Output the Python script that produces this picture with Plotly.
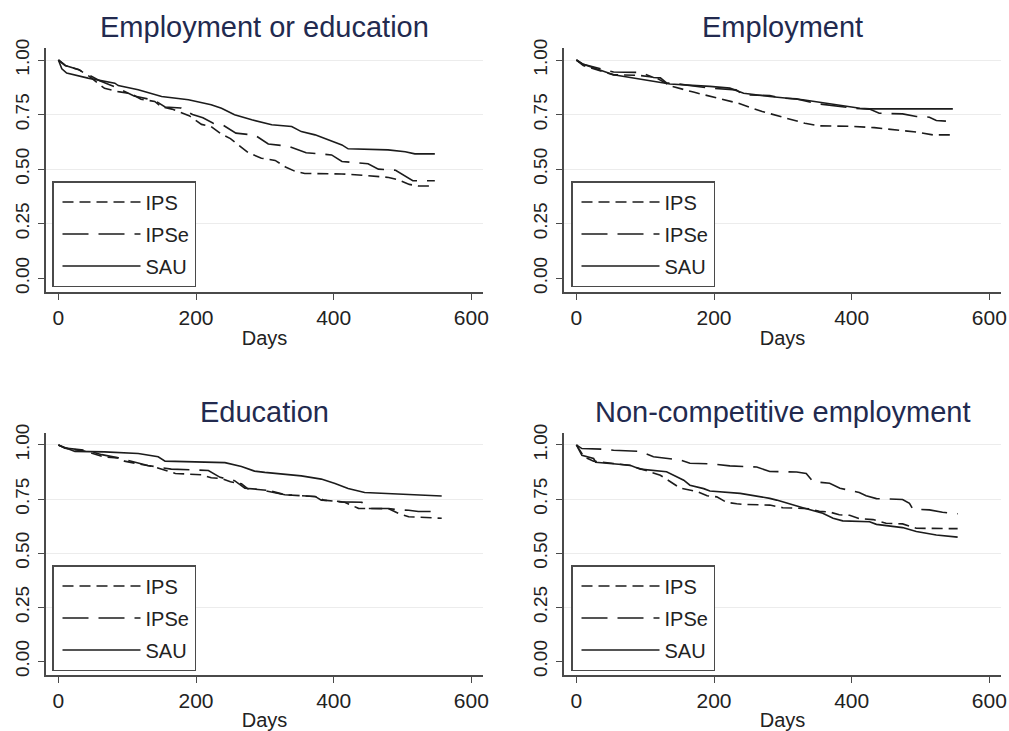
import plotly.graph_objects as go
from plotly.subplots import make_subplots

# ---------------- data ----------------
panel_titles = ["Employment or education", "Employment", "Education", "Non-competitive employment"]
groups = ["IPS", "IPSe", "SAU"]
x_ticks = [0, 200, 400, 600]
y_ticks = [0.0, 0.25, 0.5, 0.75, 1.0]
y_tick_text = ["0.00", "0.25", "0.50", "0.75", "1.00"]
y_grid = [0.25, 0.5, 0.75, 1.0]
x_title = "Days"

# Panel 1: Employment or education
p1_ips_days = [0, 10, 30, 45, 67, 87, 106, 120, 140, 150, 165, 180, 190, 208, 222, 237, 250, 266, 276, 295, 315, 330, 344, 358, 412, 450, 480, 495, 510, 523, 547]
p1_ips_surv = [1.0, 0.975, 0.955, 0.925, 0.87, 0.855, 0.845, 0.82, 0.81, 0.785, 0.775, 0.755, 0.745, 0.705, 0.695, 0.66, 0.64, 0.60, 0.575, 0.55, 0.54, 0.51, 0.49, 0.48, 0.478, 0.47, 0.462, 0.45, 0.43, 0.423, 0.423]
p1_ipse_days = [0, 10, 30, 45, 60, 87, 110, 140, 155, 178, 195, 210, 225, 240, 258, 286, 305, 334, 360, 397, 412, 450, 465, 490, 505, 515, 547]
p1_ipse_surv = [1.0, 0.975, 0.955, 0.93, 0.905, 0.87, 0.835, 0.815, 0.785, 0.78, 0.75, 0.735, 0.71, 0.70, 0.665, 0.655, 0.615, 0.605, 0.575, 0.565, 0.535, 0.525, 0.50, 0.495, 0.465, 0.447, 0.447]
p1_sau_days = [0, 5, 12, 43, 82, 87, 116, 150, 189, 222, 237, 256, 281, 310, 339, 353, 373, 397, 412, 421, 479, 504, 518, 547]
p1_sau_surv = [1.0, 0.96, 0.94, 0.917, 0.894, 0.883, 0.864, 0.833, 0.818, 0.795, 0.779, 0.749, 0.726, 0.703, 0.695, 0.672, 0.657, 0.629, 0.611, 0.593, 0.588, 0.580, 0.570, 0.570]

# Panel 2: Employment
p2_ips_days = [0, 10, 54, 90, 115, 138, 170, 200, 235, 270, 298, 332, 353, 402, 433, 465, 496, 518, 543]
p2_ips_surv = [1.0, 0.975, 0.932, 0.93, 0.92, 0.88, 0.853, 0.828, 0.802, 0.764, 0.738, 0.71, 0.698, 0.696, 0.69, 0.68, 0.669, 0.657, 0.657]
p2_ipse_days = [0, 10, 54, 93, 112, 122, 131, 141, 194, 232, 243, 281, 300, 320, 349, 407, 426, 440, 474, 494, 513, 523, 537]
p2_ipse_surv = [1.0, 0.98, 0.945, 0.943, 0.92, 0.918, 0.895, 0.893, 0.871, 0.863, 0.84, 0.837, 0.825, 0.822, 0.80, 0.778, 0.775, 0.756, 0.753, 0.741, 0.738, 0.723, 0.72]
p2_sau_days = [0, 10, 54, 88, 136, 194, 223, 243, 281, 329, 378, 412, 426, 547]
p2_sau_surv = [1.0, 0.98, 0.932, 0.914, 0.89, 0.879, 0.871, 0.848, 0.833, 0.818, 0.795, 0.779, 0.776, 0.776]

# Panel 3: Education
p3_ips_days = [0, 10, 40, 67, 87, 96, 140, 170, 208, 222, 237, 250, 266, 275, 305, 329, 378, 385, 416, 436, 480, 494, 509, 528, 547, 557]
p3_ips_surv = [1.0, 0.985, 0.97, 0.944, 0.94, 0.925, 0.898, 0.868, 0.862, 0.848, 0.845, 0.83, 0.82, 0.798, 0.79, 0.77, 0.76, 0.745, 0.735, 0.707, 0.705, 0.684, 0.668, 0.665, 0.661, 0.661]
p3_ipse_days = [0, 10, 40, 63, 87, 130, 150, 164, 218, 235, 256, 271, 290, 315, 329, 373, 382, 397, 412, 441, 445, 480, 494, 509, 523, 547]
p3_ipse_surv = [1.0, 0.985, 0.975, 0.955, 0.94, 0.905, 0.895, 0.888, 0.882, 0.85, 0.835, 0.80, 0.795, 0.78, 0.77, 0.762, 0.745, 0.742, 0.737, 0.735, 0.706, 0.706, 0.70, 0.698, 0.692, 0.692]
p3_sau_days = [0, 24, 67, 116, 145, 155, 242, 266, 285, 300, 353, 382, 402, 421, 445, 509, 528, 557]
p3_sau_surv = [1.0, 0.97, 0.968, 0.96, 0.945, 0.925, 0.918, 0.90, 0.879, 0.873, 0.857, 0.842, 0.822, 0.799, 0.78, 0.771, 0.765, 0.764]

# Panel 4: Non-competitive employment
p4_ips_days = [0, 11, 25, 78, 122, 136, 151, 175, 190, 204, 218, 233, 242, 281, 300, 339, 353, 368, 382, 397, 411, 431, 450, 474, 494, 554]
p4_ips_surv = [1.0, 0.945, 0.925, 0.905, 0.86, 0.83, 0.80, 0.785, 0.765, 0.76, 0.735, 0.728, 0.725, 0.722, 0.71, 0.705, 0.693, 0.69, 0.677, 0.675, 0.66, 0.655, 0.638, 0.635, 0.615, 0.613]
p4_ipse_days = [0, 8, 40, 54, 93, 112, 151, 165, 199, 223, 262, 281, 320, 334, 344, 368, 383, 411, 421, 436, 474, 484, 489, 513, 532, 554]
p4_ipse_surv = [1.0, 0.983, 0.98, 0.975, 0.97, 0.945, 0.93, 0.915, 0.912, 0.903, 0.898, 0.877, 0.875, 0.868, 0.83, 0.823, 0.80, 0.78, 0.765, 0.752, 0.748, 0.73, 0.703, 0.70, 0.689, 0.682]
p4_sau_days = [0, 8, 25, 28, 78, 93, 131, 156, 165, 185, 194, 238, 281, 291, 329, 358, 373, 387, 426, 436, 474, 494, 523, 554]
p4_sau_surv = [1.0, 0.952, 0.937, 0.92, 0.906, 0.888, 0.876, 0.837, 0.814, 0.798, 0.787, 0.776, 0.753, 0.745, 0.71, 0.684, 0.661, 0.649, 0.645, 0.633, 0.618, 0.60, 0.584, 0.574]

panels = [
    {"IPS": (p1_ips_days, p1_ips_surv), "IPSe": (p1_ipse_days, p1_ipse_surv), "SAU": (p1_sau_days, p1_sau_surv)},
    {"IPS": (p2_ips_days, p2_ips_surv), "IPSe": (p2_ipse_days, p2_ipse_surv), "SAU": (p2_sau_days, p2_sau_surv)},
    {"IPS": (p3_ips_days, p3_ips_surv), "IPSe": (p3_ipse_days, p3_ipse_surv), "SAU": (p3_sau_days, p3_sau_surv)},
    {"IPS": (p4_ips_days, p4_ips_surv), "IPSe": (p4_ipse_days, p4_ipse_surv), "SAU": (p4_sau_days, p4_sau_surv)},
]

# ---------------- styling ----------------
# The page body margin is removed (post_script), so figure pixels = window pixels.
W, H = 1009, 731
FONT = "Liberation Sans, Arial, Helvetica, sans-serif"
INK = "#1c1c1c"
AXIS = "#4a4a4a"
TITLE_COLOR = "#222a4f"
dash_style = {"IPS": "11px,6px", "IPSe": "26px,10px", "SAU": "solid"}

# plot-area boxes in pixels (left, right) / (top, bottom)
col_px = [(46, 483), (564, 1001)]
row_px = [(48, 292), (433, 675)]
legend_px = [(52, 181), (571, 181), (52, 565), (571, 565)]
title_py = [27, 412]


def fx(px):
    return px / W


def fy(py):
    return (H - py) / H


fig = make_subplots(rows=2, cols=2)

for i, data in enumerate(panels):
    r, c = i // 2 + 1, i % 2 + 1
    leg = "legend" if i == 0 else f"legend{i + 1}"
    for g in groups:
        xs, ys = data[g]
        fig.add_trace(
            go.Scatter(
                x=xs, y=ys, mode="lines", name=g,
                line=dict(color=INK, width=1.6, dash=dash_style[g]),
                legend=leg, legendgroup=f"{leg}_{g}",
                hoverinfo="skip",
            ),
            row=r, col=c,
        )

layout_updates = {}
for i in range(4):
    r, c = i // 2, i % 2
    sfx = "" if i == 0 else str(i + 1)
    x0, x1 = col_px[c]
    t, b = row_px[r]
    layout_updates[f"xaxis{sfx}"] = dict(
        domain=[fx(x0), fx(x1)], range=[-18, 617], automargin=False,
        tickvals=x_ticks, ticks="outside", ticklen=6, tickwidth=1.3, tickcolor=AXIS,
        showline=True, linecolor=AXIS, linewidth=1.6,
        showgrid=False, zeroline=False,
        tickfont=dict(family=FONT, size=21, color="#222"),
        ticklabelstandoff=0, ticklabeloverflow="allow",
        title=dict(text=x_title, font=dict(family=FONT, size=20, color="#222"), standoff=3),
    )
    layout_updates[f"yaxis{sfx}"] = dict(
        domain=[fy(b), fy(t)], range=[-0.063, 1.055], automargin=False,
        tickvals=y_ticks, ticktext=y_tick_text, tickangle=-90,
        ticks="outside", ticklen=6, tickwidth=1.3, tickcolor=AXIS,
        showline=True, linecolor=AXIS, linewidth=1.6,
        showgrid=False, zeroline=False,
        minor=dict(tickvals=y_grid, showgrid=True, gridcolor="#ececec", gridwidth=1, ticks=""),
        tickfont=dict(family=FONT, size=19, color="#222"),
        ticklabelstandoff=2,
    )
    leg = "legend" if i == 0 else f"legend{i + 1}"
    lx, ly = legend_px[i]
    layout_updates[leg] = dict(
        x=fx(lx), y=fy(ly), xanchor="left", yanchor="top",
        xref="paper", yref="paper",
        bgcolor="white", bordercolor=AXIS, borderwidth=1.5,
        font=dict(family=FONT, size=20, color="#222"),
        tracegroupgap=3, itemwidth=78, indentation=4,
        entrywidth=58, entrywidthmode="pixels",
    )

fig.update_layout(**layout_updates)

annotations = []
for i, title in enumerate(panel_titles):
    r, c = i // 2, i % 2
    x0, x1 = col_px[c]
    annotations.append(dict(
        text=title, x=fx((x0 + x1) / 2), y=fy(title_py[r]), xref="paper", yref="paper",
        xanchor="center", yanchor="middle", showarrow=False,
        font=dict(family=FONT, size=29, color=TITLE_COLOR),
    ))

fig.update_layout(
    width=W, height=H,
    margin=dict(l=0, r=0, t=0, b=0, autoexpand=False),
    paper_bgcolor="white", plot_bgcolor="white",
    annotations=annotations,
    showlegend=True,
)

fig.write_html(
    "out.html",
    config={"displayModeBar": False},
    post_script="document.body.style.margin='0';document.body.style.overflow='hidden';",
)
